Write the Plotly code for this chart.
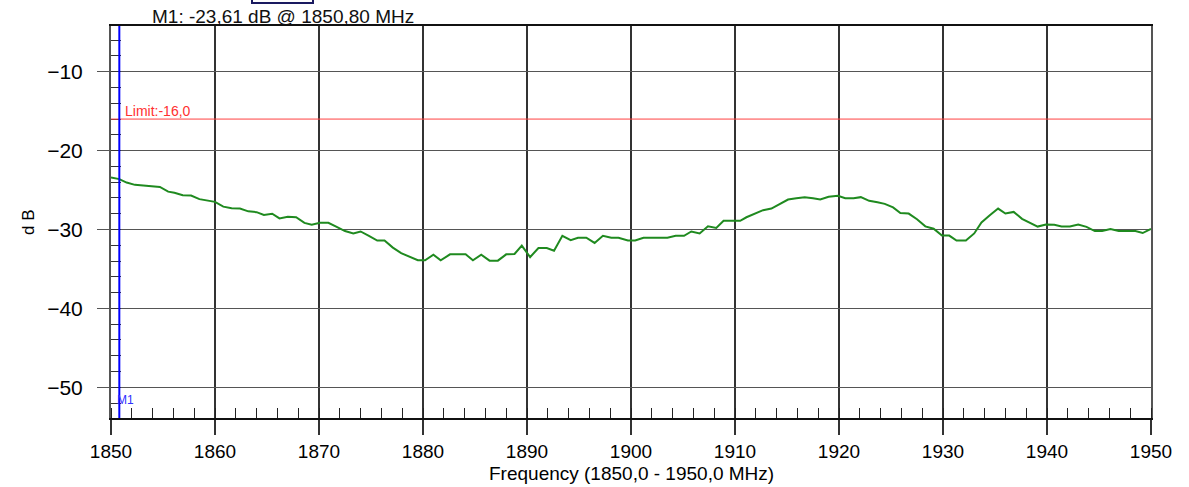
import plotly.graph_objects as go

# sweep trace (MHz, dB)
freq_mhz = [
    1850.0, 1850.8, 1851.5, 1852.3, 1853.1, 1853.9, 1854.7, 1855.5, 1856.1, 1856.9,
    1857.7, 1858.5, 1859.3, 1860.0, 1860.8, 1861.6, 1862.4, 1863.2, 1864.0, 1864.7,
    1865.5, 1866.2, 1867.0, 1867.8, 1868.6, 1869.3, 1870.1, 1870.9, 1871.7, 1872.5,
    1873.3, 1874.0, 1874.8, 1875.6, 1876.3, 1877.1, 1877.9, 1878.7, 1879.5, 1880.2,
    1881.0, 1881.7, 1882.6, 1883.4, 1884.1, 1884.8, 1885.6, 1886.4, 1887.2, 1888.0,
    1888.8, 1889.5, 1890.3, 1891.1, 1891.9, 1892.6, 1893.4, 1894.2, 1894.9, 1895.7,
    1896.5, 1897.3, 1898.1, 1898.8, 1899.7, 1900.4, 1901.2, 1902.0, 1902.8, 1903.5,
    1904.3, 1905.1, 1905.8, 1906.6, 1907.4, 1908.2, 1908.9, 1909.7, 1910.5, 1911.1,
    1911.9, 1912.7, 1913.5, 1914.3, 1915.1, 1915.9, 1916.7, 1917.5, 1918.2, 1919.0,
    1919.9, 1920.6, 1921.4, 1922.1, 1922.9, 1923.7, 1924.4, 1925.2, 1925.9, 1926.7,
    1927.5, 1928.3, 1929.1, 1929.9, 1930.6, 1931.3, 1932.2, 1933.0, 1933.7, 1934.5,
    1935.3, 1936.0, 1936.8, 1937.6, 1938.4, 1939.1, 1939.9, 1940.7, 1941.4, 1942.2,
    1943.0, 1943.8, 1944.6, 1945.3, 1946.1, 1946.9, 1947.7, 1948.5, 1949.2, 1950.0,
]
level_db = [
    -23.40, -23.61, -24.05, -24.34, -24.43, -24.47, -24.60, -25.20, -25.35, -25.65,
    -25.70, -26.15, -26.33, -26.50, -27.10, -27.30, -27.35, -27.70, -27.80, -28.15,
    -28.00, -28.60, -28.40, -28.45, -29.16, -29.40, -29.16, -29.16, -29.67, -30.20,
    -30.50, -30.25, -30.80, -31.40, -31.40, -32.30, -33.00, -33.40, -33.90, -33.90,
    -33.20, -33.90, -33.15, -33.15, -33.15, -33.90, -33.20, -33.95, -33.95, -33.15,
    -33.10, -32.05, -33.50, -32.35, -32.35, -32.70, -30.80, -31.35, -31.05, -31.05,
    -31.70, -30.80, -31.05, -31.05, -31.40, -31.40, -31.05, -31.05, -31.05, -31.05,
    -30.80, -30.80, -30.25, -30.50, -29.60, -29.80, -28.90, -28.90, -28.90, -28.45,
    -27.98, -27.55, -27.35, -26.80, -26.20, -26.03, -25.90, -26.03, -26.20, -25.86,
    -25.73, -26.03, -26.03, -25.90, -26.37, -26.55, -26.75, -27.20, -27.90, -27.98,
    -28.70, -29.60, -29.90, -30.77, -30.77, -31.40, -31.40, -30.50, -29.10, -28.20,
    -27.35, -27.98, -27.77, -28.65, -29.12, -29.63, -29.37, -29.40, -29.63, -29.63,
    -29.37, -29.67, -30.20, -30.20, -29.93, -30.20, -30.20, -30.20, -30.45, -29.93,
]

limit_db = -16.0
marker_freq = 1850.8
marker_db = -23.61

FONT = "Liberation Sans, Arial, sans-serif"
PLOT_W = 1189 - 111 - 38
PLOT_H = 487 - 26 - 69  # plot area size in px, for paper offsets

fig = go.Figure()

fig.add_trace(go.Scatter(
    x=freq_mhz, y=level_db, mode="lines",
    line=dict(color="#1f8a1f", width=2),
    showlegend=False, hoverinfo="skip",
))

# limit line
fig.add_shape(type="line", xref="paper", x0=0, x1=1, yref="y", y0=limit_db, y1=limit_db,
              line=dict(color="#ff4040", width=1))
fig.add_annotation(x=12 / PLOT_W, xref="paper", y=limit_db, yref="y", text="Limit:-16,0",
                   showarrow=False, xanchor="left", yanchor="bottom", yshift=-2,
                   font=dict(family=FONT, size=14, color="#ff3030"))

# marker M1
fig.add_shape(type="line", xref="x", x0=marker_freq, x1=marker_freq, yref="paper", y0=0, y1=1,
              line=dict(color="#0000ff", width=2))
fig.add_annotation(x=marker_freq, xref="x", y=-51.6, yref="y", text="M1",
                   showarrow=False, xanchor="left", yanchor="middle", xshift=-4,
                   font=dict(family=FONT, size=12, color="#3030ff"))

# the little marker box peeking in at the top
fig.add_shape(type="rect", xref="paper", x0=(252 - 111) / PLOT_W, x1=(313 - 111) / PLOT_W,
              yref="paper", y0=1 + 23 / PLOT_H, y1=1 + 40 / PLOT_H,
              line=dict(color="#1a1a60", width=2), fillcolor="white")

# marker readout above the plot
fig.add_annotation(
    x=(150 - 111) / PLOT_W, xref="paper", y=1 + 10 / PLOT_H, yref="paper",
    text=f"M1: {marker_db:.2f} dB @ {marker_freq:.2f} MHz".replace(".", ","),
    showarrow=False, xanchor="left", yanchor="middle",
    font=dict(family=FONT, size=19, color="#111"),
)
# axis titles
fig.add_annotation(
    x=0.5, xref="paper", y=-55 / PLOT_H, yref="paper",
    text="Frequency (1850,0 - 1950,0 MHz)", showarrow=False,
    xanchor="center", yanchor="middle",
    font=dict(family=FONT, size=19, color="black"),
)
fig.add_annotation(
    x=-83 / PLOT_W, xref="paper", y=0.5, yref="paper", text="d B", textangle=-90,
    showarrow=False, xanchor="center", yanchor="middle",
    font=dict(family=FONT, size=17, color="black"),
)

fig.update_layout(
    width=1189, height=487,
    margin=dict(l=111, r=38, t=26, b=69, autoexpand=False),
    paper_bgcolor="white", plot_bgcolor="white",
    font=dict(family=FONT, color="black"),
)

fig.update_xaxes(
    range=[1850, 1950], dtick=10, tick0=1850,
    showgrid=True, gridcolor="#333", gridwidth=1.5,
    ticks="outside", ticklen=15, tickcolor="#333", tickwidth=1.5,
    minor=dict(ticks="inside", ticklen=10, dtick=2, tickcolor="#222", tickwidth=1, showgrid=False),
    showline=True, linecolor="#111", linewidth=1.5, mirror=True,
    tickfont=dict(family=FONT, size=19),
    automargin=False,
    zeroline=False,
)
fig.update_yaxes(
    range=[-53.9, -4.2], dtick=10, tick0=-10,
    showgrid=True, gridcolor="#555", gridwidth=1,
    ticks="outside", ticklen=12, tickcolor="#555", tickwidth=1,
    minor=dict(ticks="inside", ticklen=10, dtick=2, tickcolor="#333", tickwidth=1, showgrid=False),
    showline=True, linecolor="#555", linewidth=2, mirror=True,
    tickfont=dict(family=FONT, size=21),
    ticklabelstandoff=10,
    automargin=False,
    zeroline=False,
)

# drop the default page margin so the figure sits flush at the window's corner
fig.write_html("out.html", config={"displayModeBar": False},
               post_script="document.body.style.margin='0';")
